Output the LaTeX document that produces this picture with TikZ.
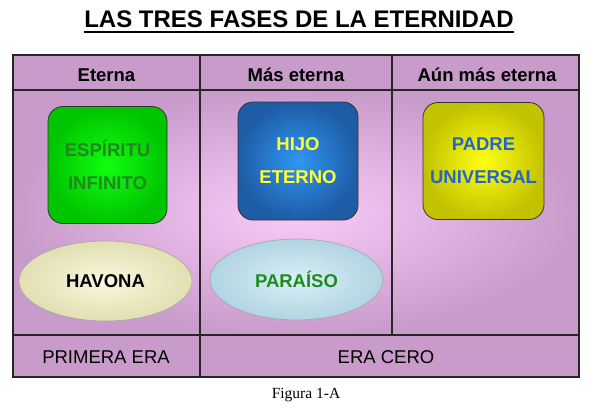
\documentclass[tikz,border=0pt]{standalone}
\usepackage{fontspec}
\setmainfont{Liberation Sans}
\newfontfamily\captionserif{Liberation Serif}
\usetikzlibrary{shapes.geometric}

\definecolor{cellpurple}{HTML}{C89BCA}
\definecolor{cellpink}{HTML}{F9CBF9}
\definecolor{spiritlight}{HTML}{10FF10}
\definecolor{spiritdark}{HTML}{00C400}
\definecolor{spirittext}{HTML}{1E8A1E}
\definecolor{sonlight}{HTML}{2F97F2}
\definecolor{sondark}{HTML}{1E5CA6}
\definecolor{sontext}{HTML}{FFFF33}
\definecolor{fatherlight}{HTML}{FFFF10}
\definecolor{fatherdark}{HTML}{C2C200}
\definecolor{fathertext}{HTML}{2266CC}
\definecolor{havonalight}{HTML}{F8F8DE}
\definecolor{havonadark}{HTML}{E2DFB2}
\definecolor{paradiselight}{HTML}{D8EFF7}
\definecolor{paradisedark}{HTML}{B2D4E2}
\definecolor{paradisetext}{HTML}{1E8C1E}

\begin{document}
\begin{tikzpicture}[x=1pt, y=-1pt,
  grid/.style={draw=black!85, line width=1.1pt},
  head/.style={font=\fontsize{18.5}{20}\selectfont\bfseries, anchor=base, inner sep=0pt},
  era/.style={font=\fontsize{18.5}{20}\selectfont, anchor=base, inner sep=0pt},
  being/.style={draw=black!80, line width=0.8pt, rounded corners=15pt, minimum width=119pt,
    minimum height=117pt, align=center, font=\fontsize{18.5}{33}\selectfont\bfseries},
  place/.style={ellipse, draw=black!35, line width=0.6pt, minimum width=173pt, minimum height=80pt,
    inner sep=0pt, font=\fontsize{18.5}{20}\selectfont\bfseries}]
  \useasboundingbox[fill=white] (0,0) rectangle (594,408);
  \node[font=\fontsize{24}{26}\selectfont\bfseries, anchor=base, inner sep=0pt] (title) at (299,27) {LAS TRES FASES DE LA ETERNIDAD};
  \draw[line width=2pt] ([yshift=-5pt]title.base west) -- ([yshift=-5pt]title.base east);
  \fill[cellpurple] (13,55) rectangle (579,90);
  \shade[inner color=cellpink, outer color=cellpurple] (13,90) rectangle (579,335);
  \fill[cellpurple] (13,335) rectangle (579,377);
  \draw[grid] (13,55) rectangle (579,377);
  \draw[grid] (13,90) -- (579,90);
  \draw[grid] (13,335) -- (579,335);
  \draw[grid] (200,55) -- (200,377);
  \draw[grid] (392,55) -- (392,335);
  \node[head] (eterna) at (106.5,81) {Eterna};
  \node[head] (maseterna) at (296,81) {Más eterna};
  \node[head] (aunmaseterna) at (487,81) {Aún más eterna};
  \node[being, inner color=spiritlight, outer color=spiritdark, text=spirittext] (espiritu) at (107.5,165) {ESPÍRITU\\INFINITO};
  \node[being, inner color=sonlight, outer color=sondark, text=sontext, minimum width=120pt, minimum height=118pt] (hijo) at (298,161) {HIJO\\ETERNO};
  \node[being, inner color=fatherlight, outer color=fatherdark, text=fathertext, minimum width=121pt] (padre) at (483.5,161) {PADRE\\UNIVERSAL};
  \node[place, inner color=havonalight, outer color=havonadark] (havona) at (105.5,281) {HAVONA};
  \node[place, inner color=paradiselight, outer color=paradisedark, text=paradisetext, minimum height=81pt] (paraiso) at (296.5,279.5) {PARAÍSO};
  \node[era] (primeraera) at (106,363) {PRIMERA ERA};
  \node[era] (eracero) at (386,363) {ERA CERO};
  \node[font=\captionserif\fontsize{15.5}{18}\selectfont, anchor=base, inner sep=0pt] (figura) at (306,398) {Figura 1-A};
\end{tikzpicture}
\end{document}
